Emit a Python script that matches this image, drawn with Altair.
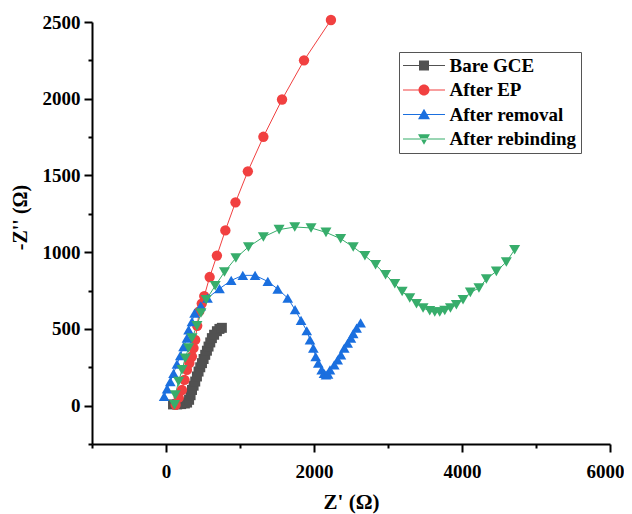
import altair as alt
import pandas as pd

# ---- data ----
names = ["Bare GCE", "After EP", "After removal", "After rebinding"]
colors = ["#515151", "#F14040", "#1A6FDF", "#37AD6B"]
shapes = ["square", "circle", "triangle-up", "triangle-down"]
marker_sizes = [100, 121, 144, 144]

bare_x = [95, 150, 205, 255, 285, 312, 332, 351, 373, 395, 418, 440, 463, 486,
          508, 530, 553, 575, 598, 620, 650, 688, 722, 755]
bare_y = [8, 8, 10, 14, 20, 38, 68, 102, 130, 157, 190, 222, 250, 277,
          304, 331, 358, 385, 412, 440, 462, 485, 500, 507]

ep_x = [130, 172, 216, 250, 283, 316, 350, 372, 395, 422, 449, 483, 517, 590,
        688, 802, 939, 1106, 1316, 1568, 1865, 2229]
ep_y = [5, 52, 102, 168, 233, 278, 320, 375, 428, 520, 614, 665, 714, 838,
        978, 1142, 1325, 1527, 1752, 1995, 2250, 2513]

rem_x = [-25, 15, 58, 102, 148, 193, 237, 283, 305, 351, 386, 470, 561, 723,
         881, 1038, 1204, 1376, 1510, 1645, 1744, 1825, 1902, 1946, 1991, 2023,
         2058, 2104, 2135, 2162, 2190, 2216, 2274, 2320, 2364, 2409, 2455, 2499,
         2530, 2576, 2630]
rem_y = [60, 110, 157, 211, 270, 326, 385, 440, 494, 548, 603, 650, 701, 762,
         816, 849, 849, 809, 760, 701, 625, 555, 488, 429, 375, 320,
         277, 233, 210, 200, 205, 233, 266, 298, 331, 375, 407, 440,
         470, 505, 540]

reb_x = [116, 125, 170, 216, 260, 305, 351, 418, 472, 543, 665, 790, 944, 1114,
         1316, 1528, 1740, 1960, 2162, 2360, 2530, 2688, 2832, 2967, 3092, 3191,
         3294, 3385, 3474, 3564, 3632, 3699, 3767, 3844, 3924, 4014, 4113, 4229,
         4329, 4464, 4599, 4711]
reb_y = [5, 70, 157, 233, 309, 375, 440, 520, 603, 690, 781, 871, 962, 1034,
         1099, 1147, 1164, 1158, 1129, 1088, 1034, 977, 918, 853, 794, 744,
         701, 664, 636, 618, 610, 610, 620, 636, 657, 690, 738, 766,
         825, 875, 936, 1016]

x_ticks = list(range(-1000, 6001, 1000))
y_ticks = list(range(-250, 2501, 250))

rows = []
for name, xs, ys in zip(names, [bare_x, ep_x, rem_x, reb_x], [bare_y, ep_y, rem_y, reb_y]):
    for i, (xv, yv) in enumerate(zip(xs, ys)):
        rows.append({"series": name, "x": xv, "y": yv, "idx": i})
df = pd.DataFrame(rows)

FONT = "Liberation Serif, Times New Roman, serif"

# legend symbols: a thin bar (the line) plus the marker, both filled
LINE = "M-4.2,-0.1H4.2V0.1H-4.2Z"
legend_paths = [
    LINE + "M-1,-1H1V1H-1Z",
    LINE + "M-1.1,0A1.1,1.1,0,1,1,1.1,0A1.1,1.1,0,1,1,-1.1,0Z",
    LINE + "M0,-1.15L1.2,0.95L-1.2,0.95Z",
    LINE + "M0,1.15L1.2,-0.95L-1.2,-0.95Z",
]
paths_expr = "[" + ",".join("'" + p + "'" for p in legend_paths) + "][datum.index]"

x_axis = alt.Axis(
    values=x_ticks, format="d",
    labelExpr="datum.value % 2000 === 0 ? datum.label : ''",
    tickSize={"condition": {"test": "datum.value % 2000 === 0", "value": 8}, "value": 4},
    labelOffset={"condition": {"test": "datum.value === 6000", "value": -5}, "value": 0},
    tickWidth=2, tickColor="black", domainColor="black", domainWidth=2,
    labelFont=FONT, labelFontSize=19, labelFontWeight="bold", labelColor="black",
    labelPadding=10, labelOverlap=False, labelFlush=False,
    titleFont=FONT, titleFontSize=21, titleFontWeight="bold", titleColor="black",
    titlePadding=10, grid=False,
)
y_axis = alt.Axis(
    values=y_ticks, format="d",
    labelExpr="datum.value % 500 === 0 ? datum.label : ''",
    tickSize={"condition": {"test": "datum.value % 500 === 0", "value": 8}, "value": 4},
    tickWidth=2, tickColor="black", domainColor="black", domainWidth=2,
    labelFont=FONT, labelFontSize=19, labelFontWeight="bold", labelColor="black",
    labelPadding=4, labelOverlap=False, labelFlush=False,
    titleFont=FONT, titleFontSize=20, titleFontWeight="bold", titleColor="black",
    titlePadding=12, titleY=195, grid=False,
)

xenc = alt.X("x:Q", scale=alt.Scale(domain=[-1000, 6000], nice=False, zero=False),
             axis=x_axis, title="Z' (Ω)")
yenc = alt.Y("y:Q", scale=alt.Scale(domain=[-250, 2500], nice=False, zero=False),
             axis=y_axis, title="-Z'' (Ω)")

legend = alt.Legend(
    title=None, orient="none", legendX=307, legendY=30,
    padding=4, rowPadding=4.5,
    symbolSize=100, symbolType={"expr": paths_expr},
    symbolFillColor={"expr": "scale('color', datum.value)"},
    symbolStrokeWidth=0, symbolOffset=11.5, labelOffset=16,
    labelFont=FONT, labelFontSize=19, labelFontWeight="bold", labelColor="black",
    labelLimit=0, strokeColor="#555555", fillColor="white",
)

base = alt.Chart(df)
lines = base.mark_line(strokeWidth=1).encode(
    x=xenc, y=yenc,
    color=alt.Color("series:N", scale=alt.Scale(domain=names, range=colors), legend=legend),
    order=alt.Order("idx:Q"),
)
# marker scales take their domain from the data (sorted in series order), so that
# they are not merged into the colour legend
points = base.mark_point(filled=True, opacity=1, strokeWidth=0).encode(
    x=xenc, y=yenc,
    fill=alt.Fill("series:N", sort=names, scale=alt.Scale(range=colors), legend=None),
    shape=alt.Shape("series:N", sort=names, scale=alt.Scale(range=shapes), legend=None),
    size=alt.Size("series:N", sort=names, scale=alt.Scale(range=marker_sizes), legend=None),
)

chart = alt.layer(lines, points).properties(
    width=518, height=422,
    autosize=alt.AutoSizeParams(type="none"),
    padding={"left": 84, "top": 14, "right": 14, "bottom": 70},
    background="white",
).configure_view(stroke=None)

chart.save("out.html", embed_options={"renderer": "svg", "actions": False})
